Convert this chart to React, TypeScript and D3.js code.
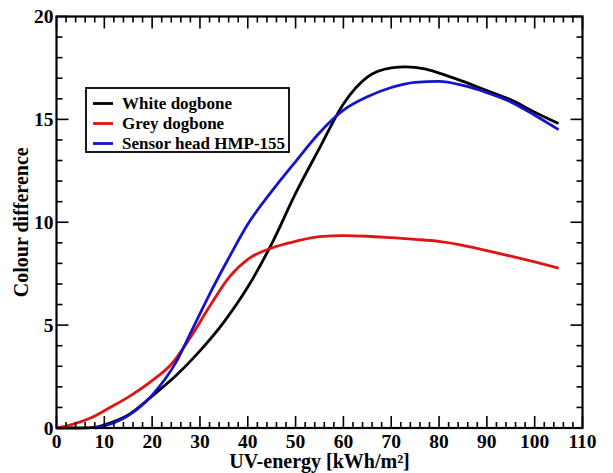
import React from "react";
import * as d3 from "d3";

const whiteX = [0, 5, 8, 10, 15, 20, 25, 30, 35, 40, 45, 50, 55, 60, 65, 70, 73, 77, 80, 85, 90, 95, 100, 105];
const whiteY = [0, 0, 0.03, 0.15, 0.63, 1.55, 2.55, 3.75, 5.15, 6.85, 8.95, 11.4, 13.6, 15.75, 17.05, 17.5, 17.55, 17.45, 17.25, 16.85, 16.4, 15.95, 15.35, 14.8];

const greyX = [0, 3, 7, 11, 15, 20, 24, 28, 32, 36, 40, 45, 50, 55, 60, 65, 70, 75, 80, 85, 90, 95, 100, 105];
const greyY = [0, 0.15, 0.47, 0.97, 1.5, 2.3, 3.1, 4.4, 5.9, 7.3, 8.2, 8.75, 9.07, 9.3, 9.35, 9.32, 9.25, 9.17, 9.07, 8.88, 8.62, 8.35, 8.07, 7.77];

const sensorX = [8, 10, 15, 20, 25, 28, 32, 36, 40, 45, 50, 55, 60, 65, 70, 75, 80, 85, 90, 95, 100, 105];
const sensorY = [0, 0.1, 0.6, 1.6, 3.2, 4.6, 6.5, 8.25, 9.9, 11.5, 12.95, 14.35, 15.45, 16.1, 16.55, 16.8, 16.85, 16.65, 16.3, 15.85, 15.2, 14.5];

const seriesNames = ["White dogbone", "Grey dogbone", "Sensor head HMP-155"];
const seriesColors = ["#000000", "#e01414", "#1414cc"];

const xTicks = [0, 10, 20, 30, 40, 50, 60, 70, 80, 90, 100, 110];
const yTicks = [0, 5, 10, 15, 20];

const W = 613;
const H = 473;
const L = 56.5, R = 582.5, T = 16.5, B = 428;
const FONT = "Liberation Serif";

export default function App() {
  const x = d3.scaleLinear().domain([0, 110]).range([L, R]);
  const y = d3.scaleLinear().domain([0, 20]).range([B, T]);
  const line = d3
    .line<[number, number]>()
    .x((d) => x(d[0]))
    .y((d) => y(d[1]))
    .curve(d3.curveMonotoneX);

  const series = [
    { xs: whiteX, ys: whiteY },
    { xs: greyX, ys: greyY },
    { xs: sensorX, ys: sensorY },
  ];

  const xMinor = d3.range(0, 111, 2).filter((v) => v % 10 !== 0);
  const yMinor = d3.range(0, 21, 1).filter((v) => v % 5 !== 0);
  const MAJ = 12, MIN = 6;

  return (
    <svg width={W} height={H} style={{ position: "absolute", left: 0, top: 0, background: "#fff" }}>
      <rect x={0} y={0} width={W} height={H} fill="#fff" />
      {series.map((s, i) => (
        <path
          key={i}
          d={line(s.xs.map((v, k) => [v, s.ys[k]] as [number, number])) || ""}
          fill="none"
          stroke={seriesColors[i]}
          strokeWidth={2.8}
          strokeLinejoin="round"
        />
      ))}
      <g stroke="#000" strokeWidth={1.6}>
        {xTicks.map((t) => (
          <g key={"xM" + t}>
            <line x1={x(t)} x2={x(t)} y1={B} y2={B - MAJ} />
            <line x1={x(t)} x2={x(t)} y1={T} y2={T + MAJ} />
          </g>
        ))}
        {xMinor.map((t) => (
          <g key={"xm" + t}>
            <line x1={x(t)} x2={x(t)} y1={B} y2={B - MIN} />
            <line x1={x(t)} x2={x(t)} y1={T} y2={T + MIN} />
          </g>
        ))}
        {yTicks.map((t) => (
          <g key={"yM" + t}>
            <line x1={L} x2={L + MAJ} y1={y(t)} y2={y(t)} />
            <line x1={R} x2={R - MAJ} y1={y(t)} y2={y(t)} />
          </g>
        ))}
        {yMinor.map((t) => (
          <g key={"ym" + t}>
            <line x1={L} x2={L + MIN} y1={y(t)} y2={y(t)} />
            <line x1={R} x2={R - MIN} y1={y(t)} y2={y(t)} />
          </g>
        ))}
      </g>
      <rect x={L} y={T} width={R - L} height={B - T} fill="none" stroke="#000" strokeWidth={2.2} />
      <g fontFamily={FONT} fontWeight="bold" fontSize={19.5} fill="#000">
        {xTicks.map((t) => (
          <text key={"xl" + t} x={x(t)} y={448} textAnchor="middle">
            {t}
          </text>
        ))}
        {yTicks.map((t) => (
          <text key={"yl" + t} x={L - 3} y={y(t) + 6.5} textAnchor="end">
            {t}
          </text>
        ))}
      </g>
      <text x={(L + R) / 2} y={468} textAnchor="middle" fontFamily={FONT} fontWeight="bold" fontSize={20}>
        UV-energy [kWh/m²]
      </text>
      <text
        transform={`translate(28,${(T + B) / 2}) rotate(-90)`}
        textAnchor="middle"
        fontFamily={FONT}
        fontWeight="bold"
        fontSize={20}
      >
        Colour difference
      </text>
      <rect x={86} y={88} width={203} height={64} fill="#fff" stroke="#000" strokeWidth={1.8} />
      {seriesNames.map((n, i) => (
        <g key={n}>
          <line x1={93} x2={113} y1={103.5 + i * 20} y2={103.5 + i * 20} stroke={seriesColors[i]} strokeWidth={2.8} />
          <text x={122} y={109 + i * 20} fontFamily={FONT} fontWeight="bold" fontSize={17}>
            {n}
          </text>
        </g>
      ))}
    </svg>
  );
}
